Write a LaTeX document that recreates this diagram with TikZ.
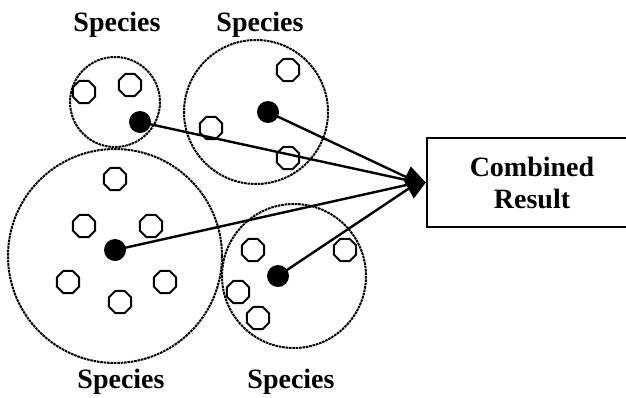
\documentclass[tikz,border=0pt]{standalone}
\usepackage{fontspec}
\setmainfont{Liberation Serif}
\usetikzlibrary{arrows.meta,shapes.geometric}
\begin{document}
\begin{tikzpicture}[x=1pt,y=-1pt,
  group/.style={draw,line width=2pt,dash pattern=on 2.6pt off 0.8pt},
  member/.style={draw,line width=2pt,regular polygon,regular polygon sides=8,minimum size=24pt,inner sep=0pt},
  rep/.style={fill=black,circle,minimum size=22pt,inner sep=0pt},
  conn/.style={line width=2.4pt},
  headfill/.style={fill=black},
  lbl/.style={font=\fontsize{28}{32}\selectfont\bfseries,anchor=base,inner sep=0pt},
  resbox/.style={draw,line width=2.4pt,minimum width=210pt,minimum height=89pt,align=center,
    font=\fontsize{28}{32}\selectfont\bfseries,inner sep=0pt}]
\useasboundingbox (0,0) rectangle (626,397);
% group circles
\draw[group] (115,102) circle (45);
\draw[group] (256,112) circle (72);
\draw[group] (115,256) circle (107);
\draw[group] (294,276) circle (72);
% labels
\node[lbl] (l1) at (117,31) {Species};
\node[lbl] (l2) at (260,31) {Species};
\node[lbl] (l3) at (121,388) {Species};
\node[lbl] (l4) at (291,388) {Species};
% members
\node[member] (a1) at (84,92) {};
\node[member] (a2) at (130,85) {};
\node[member] (b1) at (288,70) {};
\node[member] (b2) at (211,128) {};
\node[member] (b3) at (288,158) {};
\node[member] (c1) at (115,179) {};
\node[member] (c2) at (84,226) {};
\node[member] (c3) at (151,226) {};
\node[member] (c4) at (68,282) {};
\node[member] (c5) at (165,282) {};
\node[member] (c6) at (120,302) {};
\node[member] (e1) at (253,250) {};
\node[member] (e2) at (345,250) {};
\node[member] (e3) at (238,292) {};
\node[member] (e4) at (258,318) {};
% representatives
\node[rep] (da) at (140,122) {};
\node[rep] (db) at (268,112) {};
\node[rep] (dc) at (115,250) {};
\node[rep] (de) at (278,276) {};
% result box
\node[resbox] (res) at (532,182.5) {Combined\\Result};
% connectors
\draw[conn] (da.center) -- ([xshift=-8pt]res.west);
\draw[conn] (db.center) -- ([xshift=-8pt]res.west);
\draw[conn] (dc.center) -- ([xshift=-8pt]res.west);
\draw[conn] (de.center) -- ([xshift=-8pt]res.west);
% merged arrowhead
\fill[headfill] (res.west) -- ([shift={(-15,-16)}]res.west) -- ([shift={(-22,-2)}]res.west)
  -- ([shift={(-12,16)}]res.west) -- cycle;
\end{tikzpicture}
\end{document}
